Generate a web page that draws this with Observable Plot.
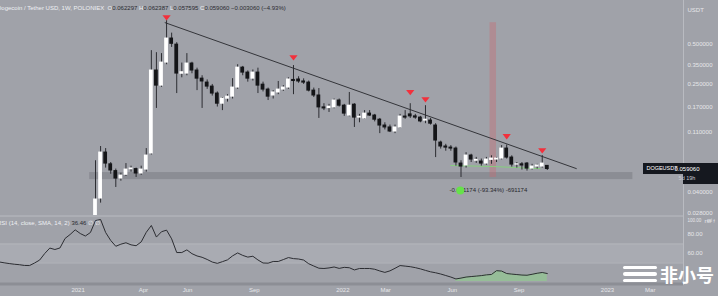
<!DOCTYPE html>
<html><head><meta charset="utf-8">
<script src="https://cdn.jsdelivr.net/npm/d3@7"></script>
<script src="https://cdn.jsdelivr.net/npm/@observablehq/plot@0.6"></script>
<style>
html,body{margin:0;padding:0;background:#a0a2a9;}
#chart{position:relative;width:718px;height:296px;overflow:hidden;background:#a0a2a9;font-family:"Liberation Sans",Arial,sans-serif;}
#chart svg{display:block;}
.hdr{position:absolute;white-space:nowrap;font-size:6px;line-height:8px;color:#eef0f3;}
.hdr .v{color:#2a2b30;}
#title{left:-3px;top:4px;}
#rsilbl{left:-3px;top:219px;}
#wm{position:absolute;left:623px;top:263px;color:#fff;font-family:"Noto Sans CJK SC",sans-serif;font-weight:700;font-size:18px;line-height:22px;display:flex;align-items:center;gap:3px;}
#wm .ic{display:flex;flex-direction:column;gap:3px;}
#wm .ic div{height:3.5px;background:#fff;border-radius:2px;}
</style></head>
<body>
<div id="chart">
  <div id="p1"></div>
  <div id="p2"></div>
  <div class="hdr" id="title"></div>
  <div class="hdr" id="rsilbl"></div>
  <div id="wm"><div class="ic"><div style="width:34px"></div><div style="width:34px"></div><div style="width:34px"></div></div><span>非小号</span></div>
</div>
<script>
// ---------------- data ----------------
const candleStart = "2021-01-25"; // first visible weekly candle
const open  = [0.0087,0.0357,0.0782,0.0640,0.0570,0.0502,0.0535,0.0588,0.0590,0.0547,0.0585,0.0770,0.317,0.245,0.363,0.547,0.493,0.300,0.301,0.357,0.317,0.276,0.258,0.241,0.214,0.180,0.196,0.203,0.237,0.333,0.306,0.276,0.306,0.249,0.229,0.207,0.218,0.229,0.237,0.270,0.272,0.263,0.258,0.225,0.207,0.169,0.167,0.169,0.190,0.174,0.147,0.177,0.142,0.140,0.152,0.147,0.137,0.124,0.120,0.112,0.120,0.1445,0.150,0.145,0.142,0.135,0.135,0.124,0.0927,0.0867,0.0851,0.0837,0.0648,0.0627,0.0743,0.0680,0.0671,0.0648,0.0690,0.0694,0.0706,0.0837,0.0718,0.0637,0.0640,0.0648,0.0595,0.0616,0.0616,0.062297];
const high  = [0.068,0.0867,0.0837,0.0660,0.0590,0.0550,0.0648,0.0620,0.0600,0.0620,0.0837,0.445,0.430,0.423,0.743,0.600,0.510,0.360,0.423,0.365,0.330,0.290,0.270,0.250,0.220,0.200,0.210,0.276,0.350,0.340,0.315,0.320,0.330,0.260,0.235,0.225,0.263,0.245,0.280,0.345,0.285,0.275,0.265,0.235,0.233,0.180,0.178,0.195,0.195,0.178,0.218,0.180,0.150,0.160,0.160,0.150,0.140,0.130,0.125,0.125,0.150,0.160,0.180,0.150,0.145,0.174,0.140,0.128,0.095,0.090,0.088,0.086,0.068,0.078,0.076,0.072,0.070,0.072,0.074,0.072,0.088,0.089,0.074,0.066,0.066,0.066,0.064,0.064,0.0743,0.062387];
const low   = [0.0078,0.033,0.060,0.054,0.0431,0.048,0.052,0.056,0.0511,0.053,0.056,0.075,0.166,0.238,0.350,0.470,0.214,0.280,0.290,0.300,0.225,0.166,0.230,0.205,0.170,0.160,0.185,0.195,0.230,0.290,0.260,0.265,0.214,0.220,0.190,0.195,0.210,0.222,0.230,0.210,0.255,0.250,0.220,0.200,0.140,0.160,0.155,0.165,0.170,0.145,0.144,0.120,0.130,0.138,0.145,0.132,0.108,0.115,0.110,0.108,0.118,0.138,0.140,0.138,0.130,0.128,0.125,0.0718,0.083,0.080,0.080,0.062,0.0511,0.060,0.066,0.065,0.062,0.063,0.064,0.066,0.069,0.070,0.061,0.060,0.058,0.057,0.058,0.059,0.060,0.057595];
const close = [0.0351,0.0782,0.0648,0.0576,0.0502,0.0528,0.0585,0.0596,0.0547,0.0585,0.0743,0.317,0.245,0.363,0.547,0.500,0.301,0.308,0.357,0.317,0.276,0.263,0.241,0.214,0.180,0.196,0.203,0.237,0.333,0.306,0.276,0.306,0.245,0.229,0.203,0.218,0.229,0.237,0.272,0.265,0.263,0.258,0.225,0.207,0.169,0.166,0.171,0.190,0.174,0.152,0.174,0.142,0.144,0.152,0.147,0.137,0.124,0.120,0.112,0.120,0.1445,0.142,0.145,0.142,0.133,0.137,0.128,0.096,0.0867,0.0851,0.0837,0.066,0.0616,0.0743,0.0694,0.0690,0.0648,0.0694,0.0706,0.0706,0.0837,0.0718,0.0637,0.0640,0.0627,0.0595,0.0616,0.0627,0.0648,0.059060];

const rsiStart = "2020-09-14";
const rsi = [51.1,50.2,49.4,48.7,48.2,47.4,47.3,50.0,53.1,60.0,65.7,64.2,65.8,75.8,80.0,84.9,81.0,78.4,82.1,94.7,95.8,82.1,73.7,67.6,69.8,71.3,69.1,68.2,72.2,82.3,89.5,77.3,82.9,84.6,75.4,61.0,61.0,63.8,59.8,57.4,56.0,53.7,51.0,49.6,51.4,53.3,57.5,60.6,58.0,56.2,57.1,53.2,50.0,49.8,51.6,51.6,53.6,55.7,54.6,54.2,53.1,49.2,46.8,44.5,44.2,44.8,45.8,44.3,45.4,45.0,42.7,44.2,44.2,44.2,43.4,41.6,40.1,41.7,44.4,47.3,46.7,46.1,45.1,43.8,42.2,40.7,39.7,38.4,36.8,35.2,33.2,34.1,35.2,35.7,36.2,36.7,37.5,37.9,41.9,41.5,38.9,38.3,37.8,37.3,37.1,38.1,39.2,40.0,38.9];
const rsiFillFrom = 90; // index of first week with green divergence fill

const trendDates  = ["2021-05-01","2022-11-19"];
const trendPrices = [0.717,0.0595];
const zoneDates   = ["2021-01-17","2023-02-05"];
const zonePrices  = [0.0493,0.0556];
const redDates    = ["2022-07-23","2022-08-01"];
const redPrices   = [0.0511,0.717];
const greenDates  = ["2022-05-30","2022-07-28","2022-09-30"];
const greenPrices = [0.0627,0.0616,0.0595];
const markerDates  = ["2021-05-03","2021-10-25","2022-04-04","2022-04-25","2022-08-15","2022-10-03"];
const markerPrices = [0.781,0.395,0.218,0.193,0.1027,0.0808];
const measureText = "-0.691174 (-93.34%) -691174";
const measureDate = "2022-05-28", measurePrice = 0.0409;
const circleDate = "2022-06-12";
const priceTicks = [0.8,0.5,0.35,0.25,0.17,0.11,0.08,0.04,0.028];
const rsiTicks = [80,60];
const lastPrice = 0.059060;
const timeTickDates  = ["2021-01-01","2021-04-01","2021-06-01","2021-09-01","2022-01-01","2022-03-01","2022-06-01","2022-09-01","2023-01-01","2023-03-01"];
const timeTickLabels = ["2021","Apr","Jun","Sep","2022","Mar","Jun","Sep","2023","Mar"];
const xDomain = [new Date("2020-09-16T00:00Z"), new Date("2023-04-15T19:00Z")];

// ---------------- build tables ----------------
const DAY = 864e5;
const t0 = Date.parse(candleStart + "T00:00Z");
const candles = open.map((o,i)=>({date:new Date(t0+i*7*DAY),open:o,high:high[i],low:low[i],close:close[i]}));
const r0 = Date.parse(rsiStart + "T00:00Z");
const rsiData = rsi.map((v,i)=>({date:new Date(r0+i*7*DAY),rsi:v,i}));
const D = s => new Date(s + "T00:00Z");
const trend = trendDates.map((d,i)=>({date:D(d),price:trendPrices[i]}));
const green = greenDates.map((d,i)=>({date:D(d),price:greenPrices[i]}));
const markers = markerDates.map((d,i)=>({date:D(d),price:markerPrices[i]}));
const timeTicks = timeTickDates.map((d,i)=>({date:D(d),label:timeTickLabels[i]}));

const triDown = {draw(ctx,size){const r=Math.sqrt(size/Math.PI);ctx.moveTo(-1.25*r,-0.75*r);ctx.lineTo(1.25*r,-0.75*r);ctx.lineTo(0,0.85*r);ctx.closePath();}};
const FONT = '"Liberation Sans", Arial, sans-serif';
const AXC = "#e6e7ea";

function priceTag(index, scales, values, dimensions){
  const y = scales.y(lastPrice);
  const right = dimensions.width - dimensions.marginRight;
  const g = d3.create("svg:g").style("font-family",FONT);
  g.append("rect").attr("x",right-40).attr("y",y-5.5).attr("width",40).attr("height",11).attr("fill","#15181f");
  g.append("text").attr("x",right-21).attr("y",y).attr("dy","0.35em").attr("text-anchor","middle").attr("fill","#fff").style("font-size","5.5px").text("DOGEUSDT");
  g.append("rect").attr("x",right).attr("y",y-5.5).attr("width",35).attr("height",21).attr("fill","#15181f");
  g.append("text").attr("x",right+4).attr("y",y).attr("dy","0.35em").attr("fill","#fff").style("font-size","6px").text(lastPrice.toFixed(6));
  g.append("text").attr("x",right+4).attr("y",y+10).attr("dy","0.35em").attr("fill","#c9cbd0").style("font-size","5.5px").text("5d 19h");
  return g.node();
}

const pricePlot = Plot.plot({
  width:718, height:215, marginLeft:0, marginRight:35, marginTop:0, marginBottom:0,
  style:{background:"transparent", color:AXC, fontFamily:FONT, fontSize:"6px", overflow:"hidden"},
  x:{type:"utc", domain:xDomain, axis:null},
  y:{type:"log", domain:[0.02672,1.047], axis:null},
  marks:[
    Plot.rect([0],{x1:()=>D(zoneDates[0]),x2:()=>D(zoneDates[1]),y1:()=>zonePrices[0],y2:()=>zonePrices[1],fill:"#8b8d94"}),
    Plot.rect([0],{x1:()=>D(redDates[0]),x2:()=>D(redDates[1]),y1:()=>redPrices[0],y2:()=>redPrices[1],fill:"#c86a70",fillOpacity:0.38}),
    Plot.line(green,{x:"date",y:"price",stroke:"#86d07e",strokeWidth:1}),
    Plot.line(trend,{x:"date",y:"price",stroke:"#34353a",strokeWidth:1}),
    Plot.ruleX(candles,{x:"date",y1:"low",y2:"high",stroke:"#2c2d32",strokeWidth:1,clip:true}),
    Plot.rect(candles,{x1:d=>new Date(+d.date-2.6*DAY),x2:d=>new Date(+d.date+2.6*DAY),y1:"open",y2:"close",
      fill:d=>d.close>=d.open?"#ffffff":"#141518",insetTop:-0.5,insetBottom:-0.5,clip:true}),
    Plot.dot(markers,{x:"date",y:"price",symbol:triDown,r:3.3,fill:"#f2303c",stroke:"none"}),
    Plot.text([measureText],{x:()=>D(measureDate),y:()=>measurePrice,text:d=>d,textAnchor:"start",fill:"#26272c",fontSize:6}),
    Plot.dot([0],{x:()=>D(circleDate),y:()=>measurePrice,r:4,fill:"#66e24a",stroke:"none"}),
    Plot.axisY({anchor:"right",ticks:priceTicks,tickFormat:d=>d.toFixed(6),tickSize:0,tickPadding:4,fontSize:6,fill:AXC}),
    Plot.text(["USDT"],{frameAnchor:"top-right",dx:4,dy:7,textAnchor:"start",fill:AXC,fontSize:6}),
    Plot.ruleX([xDomain[1]],{stroke:"#b9bbc1"}),
    priceTag
  ]
});

const rsiPlot = Plot.plot({
  width:718, height:81, marginLeft:0, marginRight:35, marginTop:0, marginBottom:11,
  style:{background:"transparent", color:AXC, fontFamily:FONT, fontSize:"6px", overflow:"hidden"},
  x:{type:"utc", domain:xDomain, axis:null},
  y:{domain:[26.3,100], axis:null},
  marks:[
    Plot.rect([0],{x1:()=>xDomain[0],x2:()=>xDomain[1],y1:()=>50,y2:()=>70,fill:"#a9abb2"}),
    Plot.ruleY([70,50],{stroke:"#b4b6bc",strokeWidth:1}),
    Plot.ruleY([100],{stroke:"#b9bbc1",strokeWidth:1,dy:0.5}),
    Plot.ruleY([26.3],{stroke:"#8c8e95",strokeWidth:3,dy:-1.5}),
    Plot.areaY(rsiData.filter(d=>d.i>=rsiFillFrom),{x:"date",y1:()=>30.5,y2:"rsi",fill:"#8ed38a",fillOpacity:0.55}),
    Plot.line(rsiData,{x:"date",y:"rsi",stroke:"#2c2d32",strokeWidth:1}),
    Plot.axisY({anchor:"right",ticks:rsiTicks,tickFormat:d=>d.toFixed(2),tickSize:0,tickPadding:4,fontSize:6,fill:AXC}),
    Plot.axisY({anchor:"right",ticks:[100],tickFormat:d=>d.toFixed(2),tickSize:0,tickPadding:4,fontSize:4.5,fill:AXC,dy:5}),
    Plot.text(timeTicks,{x:"date",text:"label",frameAnchor:"bottom",dy:6,fill:AXC,fontSize:6}),
    Plot.ruleX([xDomain[1]],{stroke:"#b9bbc1"})
  ]
});

document.getElementById("p1").appendChild(pricePlot);
document.getElementById("p2").appendChild(rsiPlot);

const last = candles[candles.length-1];
document.getElementById("title").innerHTML =
  'Dogecoin / Tether USD, 1W, POLONIEX&nbsp; O<span class="v">' + last.open.toFixed(6) +
  '</span> H<span class="v">' + last.high.toFixed(6) + '</span> L<span class="v">' + last.low.toFixed(6) +
  '</span> C<span class="v">' + last.close.toFixed(6) + ' −0.003060 (−4.93%)</span>';
document.getElementById("rsilbl").innerHTML =
  'RSI (14, close, SMA, 14, 2) <span class="v">36.46</span> ∅ ∅';
</script>
</body></html>
